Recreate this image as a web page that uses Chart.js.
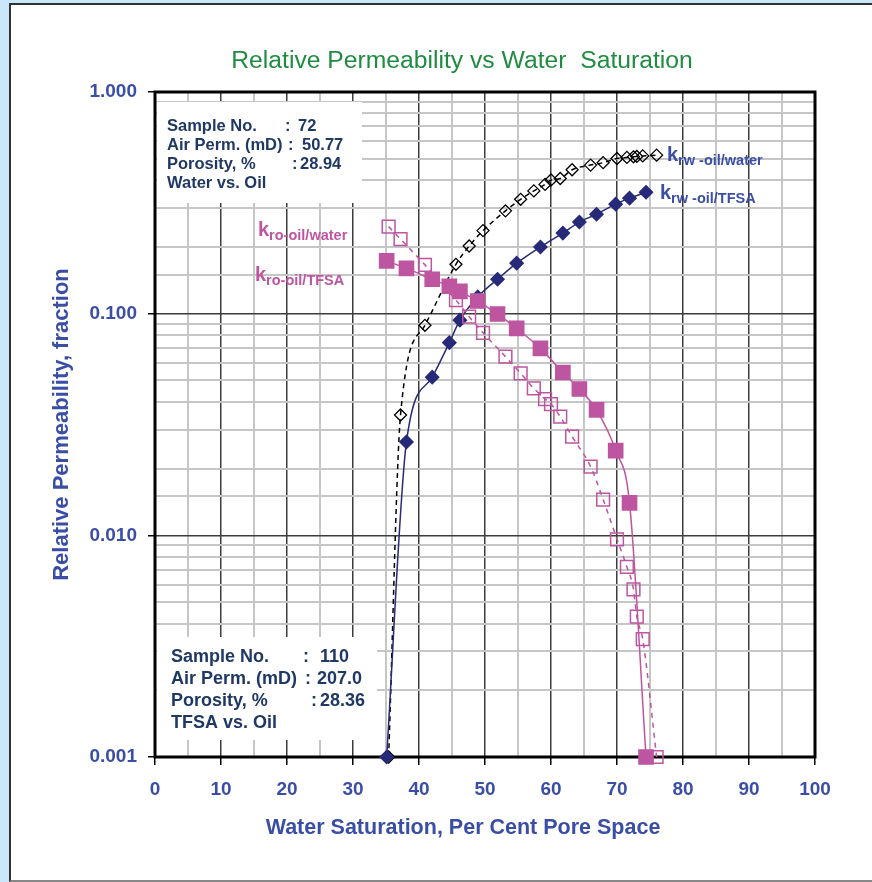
<!DOCTYPE html>
<html lang="en">
<head>
    <meta charset="UTF-8">
    <title>Relative Permeability vs Water Saturation</title>
    <script src="https://cdn.jsdelivr.net/npm/chart.js"></script>
    <style>
        body {
            margin: 0;
            background-color: #c9e7f9;
            font-family: 'Liberation Sans', Arial, sans-serif;
        }
        .panel {
            position: absolute;
            left: 9px;
            top: 3px;
            width: 900px;
            height: 875px;
            background-color: #ffffff;
            border-left: 2px solid #333;
            border-top: 2px solid #333;
            border-bottom: 2px solid #888;
        }
        .chart-box {
            position: absolute;
            left: 0;
            top: 0;
            width: 872px;
            height: 882px;
        }
    </style>
</head>
<body>
    <div class="panel"></div>
    <div class="chart-box">
        <canvas id="kChart" width="872" height="882"></canvas>
    </div>
    <script>
        // sample 110, TFSA vs oil
        const satTFSA = [35.1, 38.1, 42.0, 44.6, 46.2, 48.9, 51.9, 54.8, 58.4, 61.8, 64.3, 66.9, 69.8, 71.9, 74.4];
        const krwTFSA = [0.001, 0.0264, 0.0517, 0.0740, 0.0935, 0.119, 0.143, 0.169, 0.200, 0.231, 0.259, 0.281, 0.312, 0.332, 0.353];
        const kroTFSA = [0.173, 0.160, 0.143, 0.133, 0.126, 0.114, 0.0996, 0.0858, 0.0697, 0.0543, 0.0457, 0.0368, 0.0241, 0.0140, 0.001];

        // sample 72, water vs oil
        const satWater = [35.4, 37.2, 40.9, 45.6, 47.6, 49.7, 53.1, 55.4, 57.4, 59.1, 60.0, 61.4, 63.2, 66.0, 67.9, 70.0, 71.5, 72.5, 73.0, 73.9, 76.0];
        const krwWater = [0.001, 0.0349, 0.0886, 0.167, 0.202, 0.237, 0.291, 0.328, 0.358, 0.383, 0.401, 0.407, 0.446, 0.468, 0.480, 0.501, 0.507, 0.510, 0.512, 0.515, 0.519];
        const kroWater = [0.247, 0.217, 0.166, 0.115, 0.0969, 0.082, 0.064, 0.0538, 0.046, 0.0412, 0.0391, 0.0343, 0.0279, 0.0204, 0.0145, 0.0096, 0.0072, 0.0057, 0.0043, 0.0034, 0.001];

        const sample72 = [['Sample No.', ':', '72'], ['Air Perm. (mD)', ':', '50.77'], ['Porosity, %', ':', '28.94'], ['Water vs. Oil', '', '']];
        const sample110 = [['Sample No.', ':', '110'], ['Air Perm. (mD)', ':', '207.0'], ['Porosity, %', ':', '28.36'], ['TFSA vs. Oil', '', '']];

        const NAVY = '#262a78';
        const PINK = '#be55a0';
        const TICK_BLUE = '#3a4ea6';
        const NOTE = '#1f3864';

        function pairs(xs, ys) {
            return xs.map((x, i) => ({ x: x, y: ys[i] }));
        }

        function isDecade(v) {
            const l = Math.log10(v);
            return Math.abs(l - Math.round(l)) < 1e-6;
        }

        function drawK(ctx, x, y, sub, color) {
            ctx.fillStyle = color;
            ctx.font = 'bold 20px "Liberation Sans", Arial';
            ctx.fillText('k', x, y);
            const w = ctx.measureText('k').width;
            ctx.font = 'bold 14.5px "Liberation Sans", Arial';
            ctx.fillText(sub, x + w, y + 4);
        }

        function drawNote(ctx, rows, x, y, step, size, cols) {
            ctx.fillStyle = NOTE;
            ctx.font = 'bold ' + size + 'px "Liberation Sans", Arial';
            rows.forEach((r, i) => {
                const yy = y + i * step;
                ctx.fillText(r[0], x, yy);
                if (r[1]) {
                    ctx.fillText(r[1], cols[i][0], yy);
                    ctx.fillText(r[2], cols[i][1], yy);
                }
            });
        }

        const overlay = {
            id: 'overlay',
            beforeDatasetsDraw(chart) {
                const ctx = chart.ctx;
                const a = chart.chartArea;
                ctx.save();
                // note boxes
                ctx.fillStyle = '#ffffff';
                ctx.fillRect(a.left + 2, 102, 205, 101);
                ctx.fillRect(a.left + 2, 637, 220, 103);
                // plot frame
                ctx.strokeStyle = '#000';
                ctx.lineWidth = 3;
                ctx.strokeRect(a.left, a.top, a.right - a.left, a.bottom - a.top);
                ctx.textBaseline = 'middle';
                drawNote(ctx, sample72, 167, 126, 19, 16.5, [[285, 298], [288, 302], [292, 300]]);
                drawNote(ctx, sample110, 171, 657, 22, 18, [[303, 320], [305, 317], [311, 320]]);
                ctx.restore();
            },
            afterDatasetsDraw(chart) {
                const ctx = chart.ctx;
                ctx.save();
                ctx.textBaseline = 'alphabetic';
                drawK(ctx, 258, 236, 'ro-oil/water', PINK);
                drawK(ctx, 255, 281, 'ro-oil/TFSA', PINK);
                drawK(ctx, 667, 161, 'rw -oil/water', '#3c4fa4');
                drawK(ctx, 660, 199, 'rw -oil/TFSA', '#3c4fa4');
                // titles
                ctx.textAlign = 'center';
                ctx.textBaseline = 'middle';
                ctx.fillStyle = '#1f8c42';
                ctx.font = '24.7px "Liberation Sans", Arial';
                ctx.fillText('Relative Permeability vs Water  Saturation', 462, 61);
                ctx.fillStyle = TICK_BLUE;
                ctx.font = 'bold 21.5px "Liberation Sans", Arial';
                ctx.fillText('Water Saturation, Per Cent Pore Space', 463, 828);
                ctx.restore();
            }
        };

        new Chart(document.getElementById('kChart'), {
            type: 'line',
            data: {
                datasets: [
                    {
                        label: 'kro-oil/TFSA',
                        data: pairs(satTFSA, kroTFSA),
                        order: 1,
                        borderColor: PINK,
                        borderWidth: 1.5,
                        pointStyle: 'rect',
                        pointRadius: 10,
                        pointBackgroundColor: PINK,
                        pointBorderColor: PINK,
                        cubicInterpolationMode: 'monotone',
                        clip: false
                    },
                    {
                        label: 'kro-oil/water',
                        data: pairs(satWater, kroWater),
                        order: 2,
                        borderColor: PINK,
                        borderWidth: 1.5,
                        borderDash: [5, 5],
                        pointStyle: 'rect',
                        pointRadius: 9,
                        pointBackgroundColor: 'rgba(0,0,0,0)',
                        pointBorderColor: PINK,
                        pointBorderWidth: 1.5,
                        cubicInterpolationMode: 'monotone',
                        clip: false
                    },
                    {
                        label: 'krw-oil/TFSA',
                        data: pairs(satTFSA, krwTFSA),
                        order: 3,
                        borderColor: NAVY,
                        borderWidth: 1.5,
                        pointStyle: 'rectRot',
                        pointRadius: 6.5,
                        pointBackgroundColor: NAVY,
                        pointBorderColor: NAVY,
                        cubicInterpolationMode: 'monotone',
                        clip: false
                    },
                    {
                        label: 'krw-oil/water',
                        data: pairs(satWater, krwWater),
                        order: 4,
                        borderColor: '#000',
                        borderWidth: 1.5,
                        borderDash: [5, 4],
                        pointStyle: 'rectRot',
                        pointRadius: 6,
                        pointBackgroundColor: 'rgba(0,0,0,0)',
                        pointBorderColor: '#000',
                        pointBorderWidth: 1.3,
                        cubicInterpolationMode: 'monotone',
                        clip: false
                    }
                ]
            },
            options: {
                responsive: false,
                animation: false,
                layout: { padding: { top: 92, right: 57, bottom: 0, left: 0 } },
                plugins: {
                    legend: { display: false },
                    tooltip: { enabled: false }
                },
                scales: {
                    x: {
                        type: 'linear',
                        min: 0,
                        max: 100,
                        afterFit: s => { s.height = 125; },
                        border: { display: false },
                        grid: {
                            color: c => c.tick.value % 10 === 0 ? '#3c3c3c' : '#c6c6c6',
                            lineWidth: c => c.tick.value % 10 === 0 ? 1.5 : 2,
                            tickColor: c => c.tick.value % 10 === 0 ? '#000' : 'rgba(0,0,0,0)',
                            tickLength: 8,
                            tickWidth: 1.5
                        },
                        ticks: {
                            stepSize: 5,
                            autoSkip: false,
                            maxRotation: 0,
                            padding: 13,
                            color: TICK_BLUE,
                            font: { family: '"Liberation Sans", Arial', size: 19, weight: 'bold' },
                            callback: v => v % 10 === 0 ? String(v) : ''
                        }
                    },
                    y: {
                        type: 'logarithmic',
                        min: 0.001,
                        max: 1,
                        afterFit: s => { s.width = 155; },
                        border: { display: false },
                        grid: {
                            color: c => isDecade(c.tick.value) ? '#3c3c3c' : '#c6c6c6',
                            lineWidth: c => isDecade(c.tick.value) ? 1.5 : 2,
                            tickColor: c => isDecade(c.tick.value) ? '#000' : 'rgba(0,0,0,0)',
                            tickLength: 7,
                            tickWidth: 1.5
                        },
                        ticks: {
                            autoSkip: false,
                            padding: 11,
                            color: TICK_BLUE,
                            font: { family: '"Liberation Sans", Arial', size: 19, weight: 'bold' },
                            callback: v => isDecade(v) ? v.toFixed(3) : ''
                        },
                        title: {
                            display: true,
                            text: 'Relative Permeability, fraction',
                            color: TICK_BLUE,
                            font: { family: '"Liberation Sans", Arial', size: 22, weight: 'bold' },
                            padding: { top: 49, bottom: 0 }
                        }
                    }
                }
            },
            plugins: [overlay]
        });
    </script>
</body>
</html>
